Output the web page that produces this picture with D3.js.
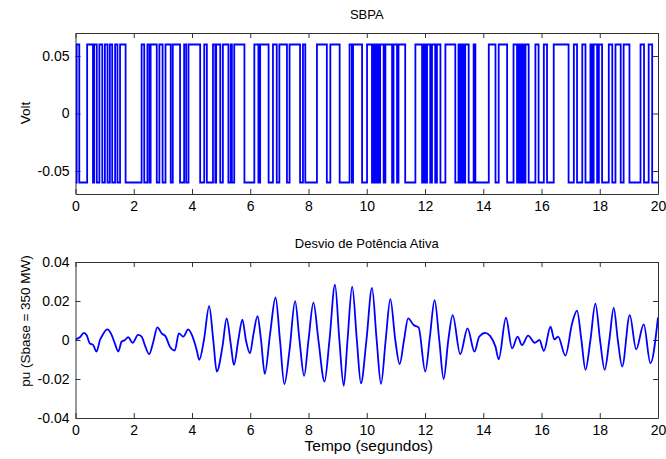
<!DOCTYPE html>
<html>
<head>
<meta charset="utf-8">
<script src="https://cdn.jsdelivr.net/npm/d3@7"></script>
<style>
  body { margin: 0; background: #fff; }
  text { font-family: Arial, "Liberation Sans", sans-serif; }
</style>
</head>
<body>
<div id="chart"></div>
<script>
// SBPA: signal starts low, then toggles at each of these times (s)
var sbpaLevel = 0.06;
var sbpaToggles = [
  0.04,0.13, 0.40,0.60, 0.64,0.73, 0.82,0.92, 1.01,1.10, 1.18,1.26, 1.36,1.44, 1.53,1.72,
  2.27,2.36, 2.47,2.54, 2.58,2.79, 2.88,2.99, 3.09,3.27, 3.34,3.59, 3.73,3.80, 3.88,4.28,
  4.42,4.51, 4.72,4.80, 4.83,4.97, 5.06,5.25, 5.33,5.37, 5.45,5.80, 6.14,6.28, 6.34,6.63,
  6.78,6.91, 7.00,7.26, 7.35,7.71, 7.81,7.89, 8.29,8.63, 8.75,9.07, 9.41,9.49, 9.53,9.84,
  10.01,10.18, 10.23,10.29, 10.35,10.41, 10.46,10.58, 10.64,10.87, 10.92,11.04, 11.09,11.32,
  11.67,11.90, 11.95,12.01, 12.07,12.18, 12.24,12.35, 12.41,12.53, 12.70,13.04, 13.15,13.21,
  13.27,13.33, 13.38,13.50, 13.67,13.73, 14.19,14.42, 14.53,14.82, 15.04,15.16, 15.22,15.28,
  15.33,15.39, 15.45,15.56, 15.79,15.90, 16.08,16.19, 16.42,16.93, 17.11,17.22, 17.40,17.51,
  17.68,17.74, 17.79,17.91, 17.97,18.08, 18.31,18.43, 18.54,18.72, 18.82,19.02, 19.40,19.52,
  19.68,19.80
];

// Desvio de potencia ativa (pu)
var tempo = [0,0.15,0.29,0.38,0.49,0.61,0.72,0.84,0.93,1.09,1.24,1.35,1.47,1.58,1.70,1.81,1.96,
  2.15,2.27,2.38,2.53,2.67,2.81,2.96,3.10,3.24,3.41,3.55,3.70,3.87,4.02,4.16,4.25,4.41,4.59,
  4.73,4.85,5.05,5.19,5.33,5.44,5.59,5.73,5.85,5.99,6.11,6.25,6.37,6.50,6.68,6.87,7.02,7.17,
  7.35,7.54,7.69,7.85,8.00,8.17,8.34,8.55,8.72,8.91,9.06,9.21,9.34,9.50,9.66,9.80,9.99,10.18,
  10.34,10.49,10.65,10.81,10.98,11.13,11.28,11.42,11.61,11.78,12.01,12.17,12.33,12.49,12.64,
  12.80,12.95,13.21,13.46,13.70,13.86,14.07,14.24,14.42,14.53,14.78,14.99,15.18,15.33,15.54,
  15.77,15.93,16.08,16.31,16.44,16.57,16.82,17.05,17.22,17.37,17.51,17.68,17.85,18.01,18.17,
  18.33,18.48,18.62,18.77,19.03,19.25,19.51,19.74,20.0];
var desvio = [0.0003,0.0014,0.0037,0.0026,-0.0017,-0.0026,-0.006,0.0,0.0026,0.0054,0.0026,-0.0017,
  -0.006,-0.0009,0.0,0.0014,-0.0014,0.0026,0.0017,-0.0026,-0.0073,-0.001,0.0065,0.0034,0.0017,
  -0.0034,-0.0054,0.0034,0.0017,0.0054,0.0017,-0.0051,-0.0102,0.0,0.0174,0.0,-0.0162,-0.003,
  0.0111,-0.002,-0.0128,0.0,0.0105,0.0,-0.0068,0.003,0.0122,0.0,-0.0174,0.003,0.0218,0.0,
  -0.0226,-0.005,0.0199,0.0,-0.0184,0.0,0.0192,0.0,-0.0213,0.0,0.0284,0.0,-0.0235,0.0,0.0274,
  0.0,-0.0222,0.0,0.0267,0.0,-0.0225,0.0,0.021,0.0,-0.0123,0.0,0.0111,0.0077,0.0065,-0.0162,
  0.002,0.0205,0.0,-0.020,0.0,0.0128,-0.0073,0.006,-0.006,0.0017,0.0037,0.002,-0.0034,-0.0099,
  0.0114,-0.0043,0.0017,-0.0026,0.0022,-0.0014,0.0,-0.0056,0.0068,0.0003,0.0017,-0.008,0.0085,
  0.0151,0.0,-0.0153,0.0,0.0187,0.0,-0.0153,0.0,0.0165,0.0,-0.0136,0.0128,-0.0048,0.008,-0.0119,
  0.0116];

var xTicks = [0,2,4,6,8,10,12,14,16,18,20];
var yTicksTop = [-0.05,0,0.05];
var yTicksBottom = [-0.04,-0.02,0,0.02,0.04];

var WIDTH = 666, HEIGHT = 459;
var left = 75.5, right = 658;

var svg = d3.select("#chart").append("svg")
  .attr("width", WIDTH)
  .attr("height", HEIGHT);

var x = d3.scaleLinear().domain([0,20]).range([left, right]);
var yTop = d3.scaleLinear().domain([-0.07,0.07]).range([194, 33]);
var yBot = d3.scaleLinear().domain([-0.04,0.04]).range([418, 262]);

var fmt = function(d) { return String(d); };

function drawAxes(y, yTicks, top, bottom, id) {
  var g = svg.append("g");
  g.append("rect")
    .attr("x", left).attr("y", top)
    .attr("width", right-left).attr("height", bottom-top)
    .attr("fill", "#fff");

  g.append("g").attr("transform", "translate(0," + bottom + ")")
    .call(d3.axisBottom(x).tickValues(xTicks).tickFormat(fmt).tickSize(-5).tickSizeOuter(0).tickPadding(7));
  g.append("g").attr("transform", "translate(0," + top + ")")
    .call(d3.axisTop(x).tickValues(xTicks).tickFormat("").tickSize(-5).tickSizeOuter(0));
  g.append("g").attr("transform", "translate(" + left + ",0)")
    .call(d3.axisLeft(y).tickValues(yTicks).tickFormat(fmt).tickSize(-5).tickSizeOuter(0).tickPadding(6));
  g.append("g").attr("transform", "translate(" + right + ",0)")
    .call(d3.axisRight(y).tickValues(yTicks).tickFormat("").tickSize(-5).tickSizeOuter(0));

  g.selectAll(".domain, .tick line").attr("stroke", "#333");
  g.selectAll(".tick text").attr("font-size", 14).attr("fill", "#000")
    .attr("font-family", "Arial, 'Liberation Sans', sans-serif");

  svg.append("clipPath").attr("id", id)
    .append("rect").attr("x", left).attr("y", top)
    .attr("width", right-left).attr("height", bottom-top);
}

// ---- top: SBPA
drawAxes(yTop, yTicksTop, 33, 194, "clipTop");

var steps = [[0, -sbpaLevel]];
var level = -sbpaLevel;
sbpaToggles.forEach(function(t) {
  steps.push([t, level]);
  level = -level;
  steps.push([t, level]);
});
steps.push([20, level]);

svg.append("path")
  .datum(steps)
  .attr("clip-path", "url(#clipTop)")
  .attr("fill", "none")
  .attr("stroke", "#0000ff")
  .attr("stroke-width", 1.8)
  .attr("d", d3.line().x(function(d) { return x(d[0]); }).y(function(d) { return yTop(d[1]); }));

// ---- bottom: desvio de potencia
drawAxes(yBot, yTicksBottom, 262, 418, "clipBot");

svg.append("path")
  .datum(d3.zip(tempo, desvio))
  .attr("clip-path", "url(#clipBot)")
  .attr("fill", "none")
  .attr("stroke", "#0000ff")
  .attr("stroke-width", 1.8)
  .attr("d", d3.line().curve(d3.curveMonotoneX)
    .x(function(d) { return x(d[0]); }).y(function(d) { return yBot(d[1]); }));

// titles and labels
var mid = (left + right) / 2;
svg.append("text").attr("x", mid).attr("y", 19).attr("text-anchor", "middle")
  .attr("font-size", 13).text("SBPA");
svg.append("text").attr("x", mid).attr("y", 248).attr("text-anchor", "middle")
  .attr("font-size", 13).text("Desvio de Potência Ativa");
svg.append("text").attr("x", mid + 2).attr("y", 451).attr("text-anchor", "middle")
  .attr("font-size", 15.5).text("Tempo (segundos)");
svg.append("text").attr("transform", "translate(30,113) rotate(-90)")
  .attr("text-anchor", "middle").attr("font-size", 13.5).text("Volt");
svg.append("text").attr("transform", "translate(30,321) rotate(-90)")
  .attr("text-anchor", "middle").attr("font-size", 13.5).text("pu (Sbase = 350 MW)");
</script>
</body>
</html>
